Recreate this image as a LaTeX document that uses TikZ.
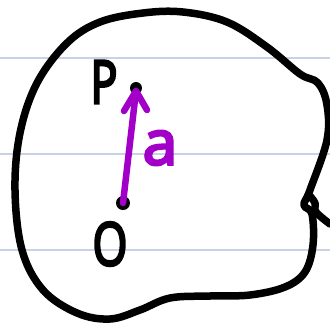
\documentclass[tikz,border=0pt]{standalone}
\usepackage{fontspec}
\setmainfont{Noto Sans}
\newfontfamily\hand[FakeBold=4]{Noto Sans}
\definecolor{rule}{HTML}{C8D2E2}
\definecolor{vec}{HTML}{A200C8}
\tikzset{
  ruleline/.style={draw=rule,line width=2pt},
  outline/.style={draw=black,line width=7.5pt,line cap=round,line join=round},
  vecline/.style={draw=vec,line width=6.5pt,line cap=round,line join=round},
  dot/.style={circle,fill=black,inner sep=0pt,minimum size=#1},
  lbl/.style={font=\hand\fontsize{60}{60}\selectfont,inner sep=0pt}
}
\begin{document}
\begin{tikzpicture}[x=1pt,y=-1pt]
\useasboundingbox (0,0) rectangle (330,325);
\fill[white] (0,0) rectangle (330,325);
% ruled lines
\coordinate (l1a) at (0,58);  \coordinate (l1b) at (330,58);
\coordinate (l2a) at (0,154); \coordinate (l2b) at (330,154);
\coordinate (l3a) at (0,250); \coordinate (l3b) at (330,250);
\draw[ruleline] (l1a) -- (l1b);
\draw[ruleline] (l2a) -- (l2b);
\draw[ruleline] (l3a) -- (l3b);
% blob
\draw[outline] plot[smooth cycle,tension=0.6] coordinates {
 (183,12) (227,22) (267,47) (300,74) (318,83) (327,105) (327,140)
 (310,190) (304,205) (312,214) (313,245) (305,272) (285,287) (250,295)
 (210,296) (170,298) (140,310) (110,319) (77,313) (43,290) (22,250)
 (15,190) (20,133) (37,83) (67,43) (100,22) (143,13)};
\draw[outline] plot[smooth,tension=0.6] coordinates {(309,195) (315,203) (316,212) (330,224)};
% points
\node[dot=12pt] (P) at (136,88) {};
\node[dot=14pt] (O) at (123,203) {};
\coordinate (tip) at (136,91);
\coordinate (hl) at (124,111);
\coordinate (hr) at (147,110);
\draw[vecline] (O.center) -- (tip);
\draw[vecline] (hl) -- (tip) -- (hr);
% labels
\node[lbl,xscale=0.75] (Pl) at (104,82) {P};
\node[lbl,xscale=0.75] (Ol) at (110,244) {O};
\node[lbl,text=vec,font=\hand\fontsize{62}{62}\selectfont] (al) at (160,148) {a};
\end{tikzpicture}
\end{document}
